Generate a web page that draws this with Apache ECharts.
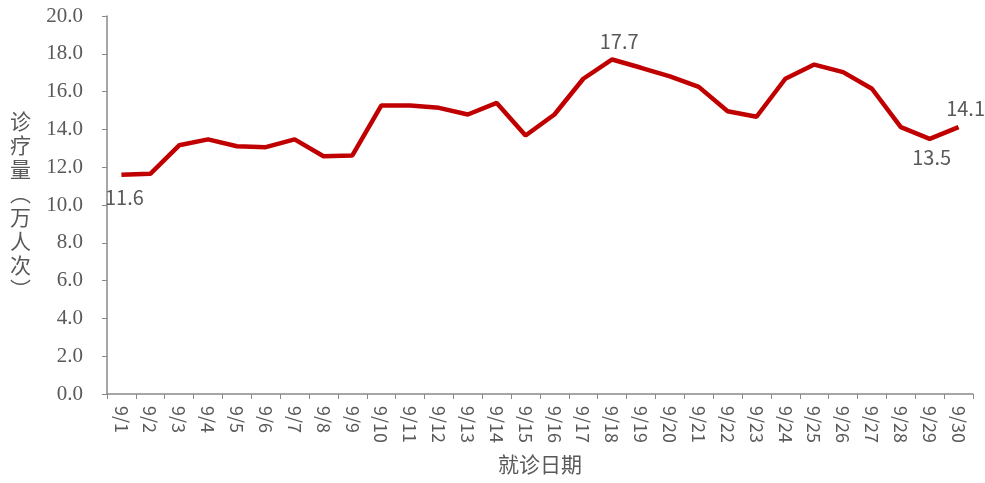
<!DOCTYPE html>
<html>
<head>
<meta charset="utf-8">
<script src="https://cdn.jsdelivr.net/npm/echarts@6/dist/echarts.min.js"></script>
<style>
  html, body { margin: 0; padding: 0; background: #fff; }
  #myChart { width: 985px; height: 483px; }
</style>
</head>
<body>
<div id="myChart"></div>
<script>
// 就诊日期
const dates = ['9/1','9/2','9/3','9/4','9/5','9/6','9/7','9/8','9/9','9/10',
  '9/11','9/12','9/13','9/14','9/15','9/16','9/17','9/18','9/19','9/20',
  '9/21','9/22','9/23','9/24','9/25','9/26','9/27','9/28','9/29','9/30']
// 诊疗量（万人次）
const visits = [11.6, 11.65, 13.16, 13.47, 13.11, 13.06, 13.47, 12.58, 12.62, 15.26,
  15.26, 15.14, 14.79, 15.4, 13.68, 14.79, 16.68, 17.7, 17.26, 16.81,
  16.25, 14.96, 14.67, 16.68, 17.43, 17.03, 16.15, 14.12, 13.5, 14.12]
// 标注的点: index -> 位置
const labelled = { 0: 'bottom', 17: 'top', 28: 'bottom', 29: 'top' }
const labelShift = { 0: [3, 4], 17: [7, 0], 28: [2, 0], 29: [7, 0] }

const gray = '#595959'
const axisGray = '#898989'

let myChart = echarts.init(document.getElementById('myChart'))
myChart.setOption({
  animation: false,
  grid: { left: 107, right: 12, top: 16, bottom: 89 },
  xAxis: {
    type: 'category',
    data: dates,
    boundaryGap: true,
    name: '就诊日期',
    nameLocation: 'middle',
    nameGap: 60,
    nameTextStyle: { color: gray, fontSize: 21, fontFamily: 'Noto Sans CJK SC' },
    axisLine: { lineStyle: { color: axisGray, width: 1.5 } },
    axisTick: { show: true, alignWithLabel: false, length: 5, lineStyle: { color: axisGray } },
    axisLabel: { rotate: -90, color: gray, fontSize: 18, margin: 12, fontFamily: 'Noto Sans CJK SC' }
  },
  yAxis: {
    type: 'value',
    min: 0,
    max: 20,
    interval: 2,
    name: '诊\n疗\n量\n︵\n万\n人\n次\n︶',
    nameLocation: 'middle',
    nameRotate: 0,
    nameGap: 76,
    nameTextStyle: { color: gray, fontSize: 21, lineHeight: 24, fontFamily: 'Noto Sans CJK SC' },
    splitLine: { show: false },
    axisLine: { show: true, lineStyle: { color: axisGray, width: 1.5 } },
    axisTick: { show: true, length: 5, lineStyle: { color: axisGray } },
    axisLabel: {
      color: gray, fontSize: 21, margin: 24, fontFamily: 'Liberation Serif',
      formatter: v => v.toFixed(1)
    }
  },
  series: [{
    type: 'line',
    data: visits.map((v, i) => labelled[i] ? {
      value: v,
      label: { show: true, position: labelled[i], distance: 8, offset: labelShift[i] }
    } : v),
    showSymbol: true,
    symbol: 'circle',
    symbolSize: 1,
    itemStyle: { color: 'rgba(0,0,0,0)' },
    lineStyle: { color: '#C00000', width: 4.5 },
    label: {
      show: false, color: gray, fontSize: 20, fontFamily: 'Noto Sans CJK SC',
      formatter: p => p.value.toFixed(1)
    }
  }]
})
</script>
</body>
</html>
